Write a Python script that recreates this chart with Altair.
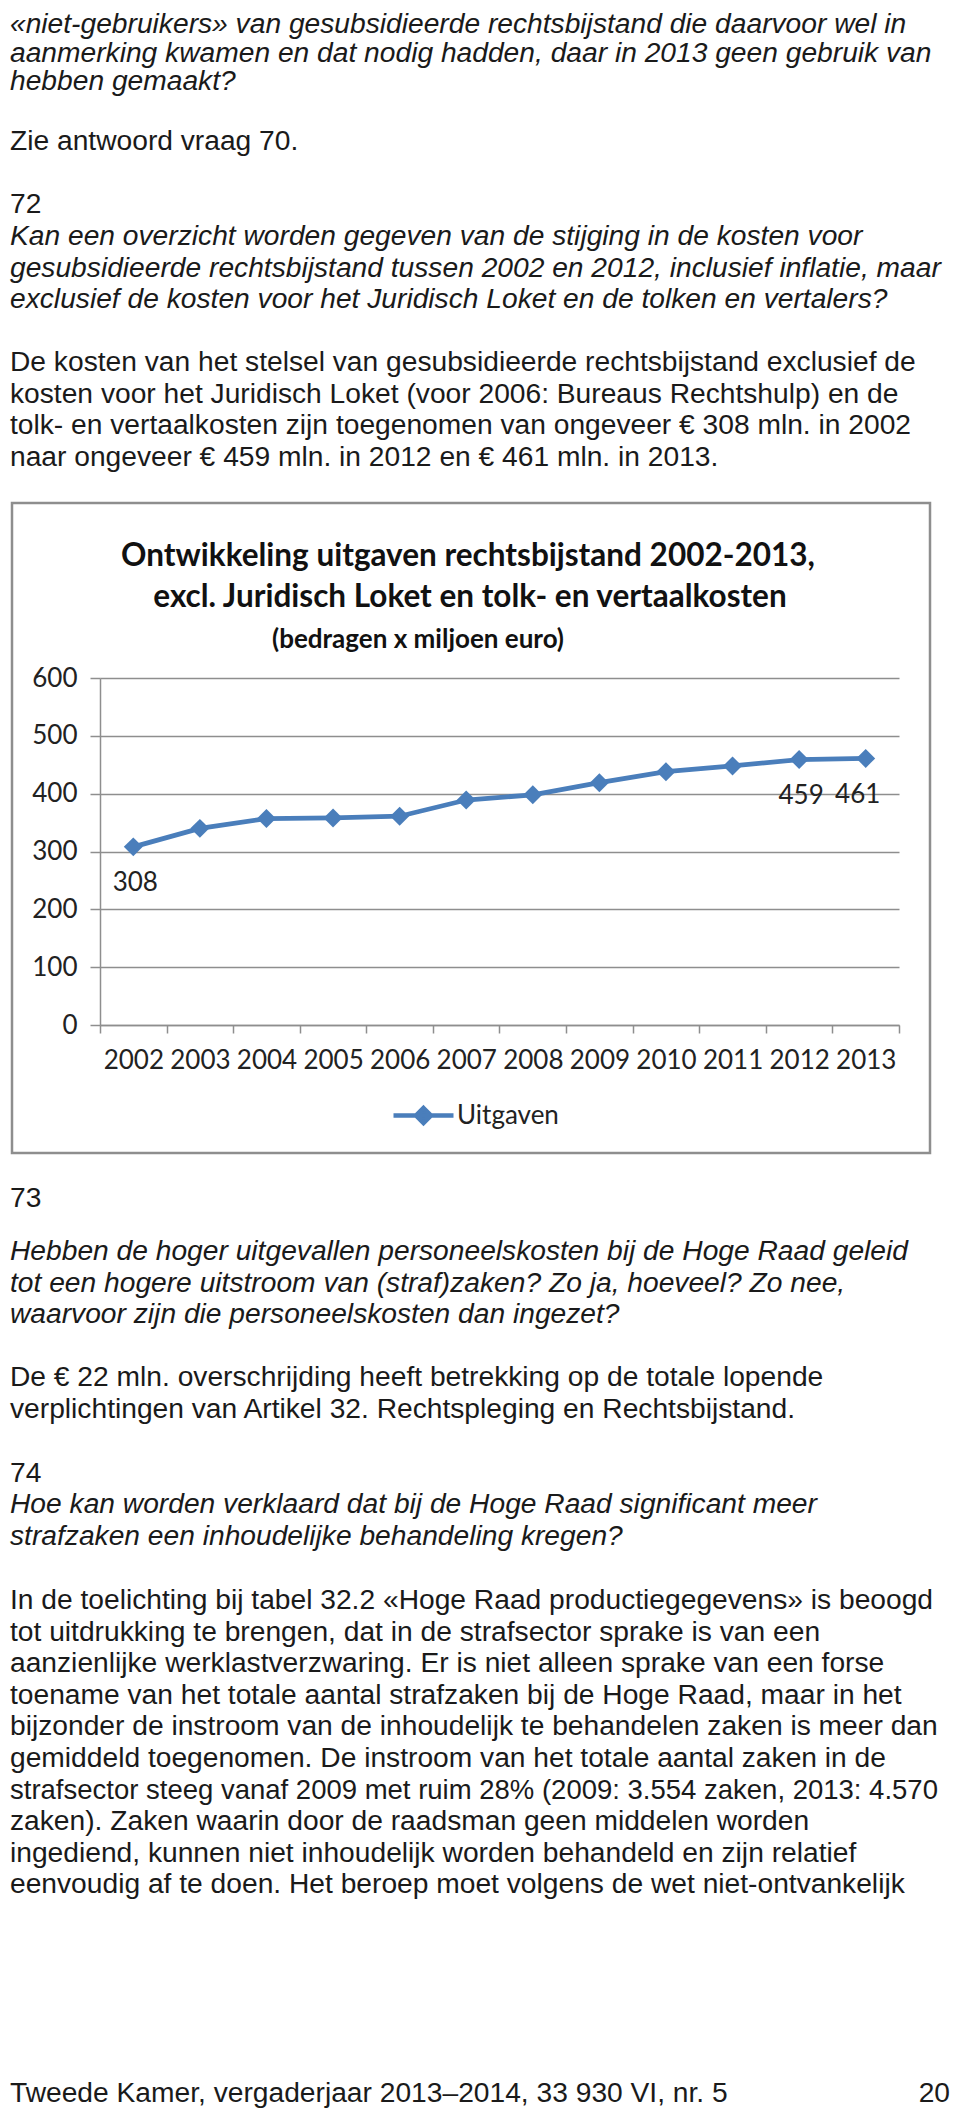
import altair as alt
import pandas as pd

# ---------------- chart data ----------------
years = [2002, 2003, 2004, 2005, 2006, 2007, 2008, 2009, 2010, 2011, 2012, 2013]
uitgaven = [308, 340, 357, 358, 361, 389, 398, 419, 438, 448, 459, 461]
series_name = "Uitgaven"
labelled_years = [2002, 2012]
labelled_years_shifted = [2013]
y_ticks = [0, 100, 200, 300, 400, 500, 600]

chart_title = ["Ontwikkeling uitgaven rechtsbijstand 2002-2013,",
               "excl. Juridisch Loket en tolk- en vertaalkosten"]
chart_subtitle = "(bedragen x miljoen euro)"

# ---------------- page text ----------------
q71_tail = ["«niet-gebruikers» van gesubsidieerde rechtsbijstand die daarvoor wel in",
            "aanmerking kwamen en dat nodig hadden, daar in 2013 geen gebruik van",
            "hebben gemaakt?"]
a71 = ["Zie antwoord vraag 70."]
n72 = ["72"]
q72 = ["Kan een overzicht worden gegeven van de stijging in de kosten voor",
       "gesubsidieerde rechtsbijstand tussen 2002 en 2012, inclusief inflatie, maar",
       "exclusief de kosten voor het Juridisch Loket en de tolken en vertalers?"]
a72 = ["De kosten van het stelsel van gesubsidieerde rechtsbijstand exclusief de",
       "kosten voor het Juridisch Loket (voor 2006: Bureaus Rechtshulp) en de",
       "tolk- en vertaalkosten zijn toegenomen van ongeveer € 308 mln. in 2002",
       "naar ongeveer € 459 mln. in 2012 en € 461 mln. in 2013."]
n73 = ["73"]
q73 = ["Hebben de hoger uitgevallen personeelskosten bij de Hoge Raad geleid",
       "tot een hogere uitstroom van (straf)zaken? Zo ja, hoeveel? Zo nee,",
       "waarvoor zijn die personeelskosten dan ingezet?"]
a73 = ["De € 22 mln. overschrijding heeft betrekking op de totale lopende",
       "verplichtingen van Artikel 32. Rechtspleging en Rechtsbijstand."]
n74 = ["74"]
q74 = ["Hoe kan worden verklaard dat bij de Hoge Raad significant meer",
       "strafzaken een inhoudelijke behandeling kregen?"]
a74 = ["In de toelichting bij tabel 32.2 «Hoge Raad productiegegevens» is beoogd",
       "tot uitdrukking te brengen, dat in de strafsector sprake is van een",
       "aanzienlijke werklastverzwaring. Er is niet alleen sprake van een forse",
       "toename van het totale aantal strafzaken bij de Hoge Raad, maar in het",
       "bijzonder de instroom van de inhoudelijk te behandelen zaken is meer dan",
       "gemiddeld toegenomen. De instroom van het totale aantal zaken in de",
       "strafsector steeg vanaf 2009 met ruim 28% (2009: 3.554 zaken, 2013: 4.570",
       "zaken). Zaken waarin door de raadsman geen middelen worden",
       "ingediend, kunnen niet inhoudelijk worden behandeld en zijn relatief",
       "eenvoudig af te doen. Het beroep moet volgens de wet niet-ontvankelijk"]
footer_left = "Tweede Kamer, vergaderjaar 2013–2014, 33 930 VI, nr. 5"
footer_right = "20"

# ---------------- layout (page pixels) ----------------
OX, OY = 100, 678          # plot-area origin on the page
PW, PH = 799, 347          # plot-area size
TOTAL_W, TOTAL_H = 944, 2101
LH = 31.6                  # page line height
TEXT_X = 10
PAGE_FONT = "Liberation Sans"
PAGE_SIZE = 28.2
NARROW_SIZE = 27.5          # for the one digit-heavy line that would run off the page
CHART_FONT = "Lato"
INK = "#1a1a1a"
BLUE = "#4a7ebb"
GRID = "#8e8e8e"

blocks = [  # (lines, first line centre y, line height, italic)
    (q71_tail, 25, 28.5, True),
    (a71, 142, LH, False),
    (n72, 205, LH, False),
    (q72, 237, LH, True),
    (a72, 363, LH, False),
    (n73, 1199, LH, False),
    (q73, 1252, LH, True),
    (a73, 1378, LH, False),
    (n74, 1474, LH, False),
    (q74, 1505, LH, True),
    (a74, 1601, LH, False),
]

rows = []
for lines, y0, lh, italic in blocks:
    for i, t in enumerate(lines):
        rows.append({"text": t, "px": TEXT_X - OX, "py": y0 + i * lh - OY,
                     "style": "italic" if italic else "normal",
                     "fs": NARROW_SIZE if "4.570" in t else PAGE_SIZE})
rows.append({"text": footer_left, "px": TEXT_X - OX, "py": 2094 - OY, "style": "normal", "fs": PAGE_SIZE})
page_df = pd.DataFrame(rows)

px_enc = alt.X("px:Q", scale=None, axis=None)
py_enc = alt.Y("py:Q", scale=None, axis=None)
fs_enc = alt.Size("fs:Q", scale=None, legend=None)

normal_text = alt.Chart(page_df).transform_filter(alt.datum.style == "normal").mark_text(
    align="left", baseline="middle", font=PAGE_FONT, color=INK
).encode(x=px_enc, y=py_enc, text="text:N", size=fs_enc)

italic_text = alt.Chart(page_df).transform_filter(alt.datum.style == "italic").mark_text(
    align="left", baseline="middle", font=PAGE_FONT, fontStyle="italic", color=INK
).encode(x=px_enc, y=py_enc, text="text:N", size=fs_enc)

page_num = alt.Chart(pd.DataFrame({"text": [footer_right], "px": [950 - OX], "py": [2094 - OY]})).mark_text(
    align="right", baseline="middle", font=PAGE_FONT, fontSize=PAGE_SIZE, color=INK
).encode(x=px_enc, y=py_enc, text="text:N")

# ---------------- chart decorations ----------------
frame = alt.Chart(pd.DataFrame({"frame": [0]})).mark_rect(
    fill="white", fillOpacity=0, stroke=GRID, strokeWidth=2.5
).encode(x=alt.value(12 - OX), x2=alt.value(930 - OX), y=alt.value(503 - OY), y2=alt.value(1153 - OY))

title_df = pd.DataFrame({"text": chart_title,
                         "px": [468 - OX, 470 - OX],
                         "py": [566 - OY, 607 - OY]})
title_layer = alt.Chart(title_df).mark_text(
    align="center", baseline="alphabetic", font=CHART_FONT, fontSize=31.5, fontWeight="bold", color="#111"
).encode(x=px_enc, y=py_enc, text="text:N")

sub_df = pd.DataFrame({"text": [chart_subtitle], "px": [418 - OX], "py": [648 - OY]})
sub_layer = alt.Chart(sub_df).mark_text(
    align="center", baseline="alphabetic", font=CHART_FONT, fontSize=26, fontWeight="bold", color="#111"
).encode(x=px_enc, y=py_enc, text="text:N")

# ---------------- line chart ----------------
data = pd.DataFrame({"jaar": years, "bedrag": uitgaven, "serie": [series_name] * len(years)})

X = alt.X("jaar:O", scale=alt.Scale(type="band", paddingInner=0, paddingOuter=0),
          axis=alt.Axis(title=None, labelAngle=0, tickBand="extent", tickSize=8, tickWidth=1.5,
                        tickColor=GRID, domainColor=GRID, domainWidth=1.5, grid=False,
                        labelPadding=27, labelBaseline="middle", labelFont=CHART_FONT,
                        labelFontSize=26, labelColor="#222"))
Y = alt.Y("bedrag:Q", scale=alt.Scale(domain=[0, 600], nice=False, zero=True),
          axis=alt.Axis(title=None, values=y_ticks, tickSize=10, tickWidth=1.5, tickColor=GRID,
                        domainColor=GRID, domainWidth=1.5, grid=True, gridColor=GRID, gridWidth=1.5,
                        labelPadding=13, labelFont=CHART_FONT, labelFontSize=26, labelColor="#222"))
C = alt.Color("serie:N", scale=alt.Scale(domain=[series_name], range=[BLUE]),
              legend=alt.Legend(orient="none", legendX=291, legendY=405, title=None, padding=0,
                                symbolType="M-1,0L1,0M0,-0.25L0.25,0L0,0.25L-0.25,0Z",
                                symbolSize=3600, symbolStrokeWidth=4.5, symbolFillColor=BLUE,
                                symbolStrokeColor=BLUE, symbolOpacity=1, labelOffset=1,
                                labelFont=CHART_FONT, labelFontSize=26, labelColor="#222"))

base = alt.Chart(data)
line = base.mark_line(strokeWidth=4.8).encode(x=X, y=Y, color=C)
points = base.mark_point(shape="diamond", filled=True, size=360, opacity=1).encode(x=X, y=Y, color=C)

lab1 = base.transform_filter(alt.FieldOneOfPredicate(field="jaar", oneOf=labelled_years)).mark_text(
    dx=2, dy=36, baseline="middle", font=CHART_FONT, fontSize=26, color="#222"
).encode(x=X, y=Y, text="bedrag:Q")
lab2 = base.transform_filter(alt.FieldOneOfPredicate(field="jaar", oneOf=labelled_years_shifted)).mark_text(
    dx=-8, dy=37, baseline="middle", font=CHART_FONT, fontSize=26, color="#222"
).encode(x=X, y=Y, text="bedrag:Q")

chart = alt.layer(
    frame, line, points, lab1, lab2, title_layer, sub_layer, normal_text, italic_text, page_num
).properties(
    width=PW, height=PH,
    autosize=alt.AutoSizeParams(type="none"),
    padding={"left": OX - 8, "top": OY - 8,
             "right": TOTAL_W - (OX - 8) - PW,
             "bottom": TOTAL_H - (OY - 8) - PH},
    background="white",
).configure_view(strokeWidth=0)

chart.save("out.html", embed_options={"renderer": "svg", "actions": False})
